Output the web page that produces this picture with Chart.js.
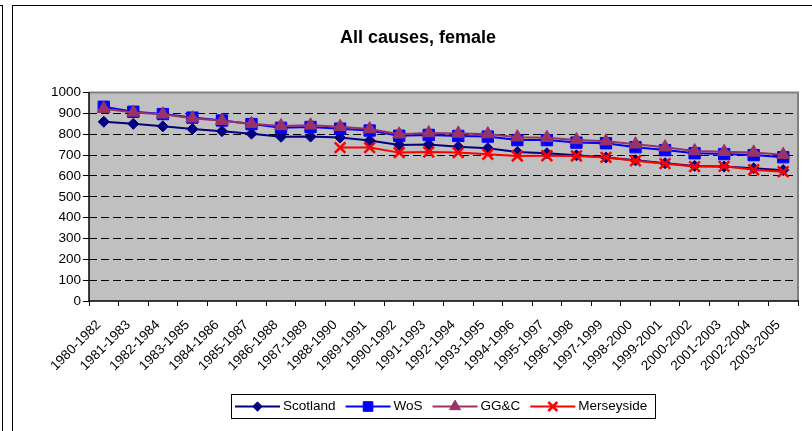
<!DOCTYPE html>
<html><head><meta charset="utf-8">
<script src="https://cdn.jsdelivr.net/npm/chart.js@4.4.1/dist/chart.umd.min.js"></script>
<style>
html,body{margin:0;padding:0;background:#fff;}
#wrap{position:relative;width:812px;height:431px;overflow:hidden;background:#fff;}
canvas{position:absolute;left:0;top:0;}
.f1{position:absolute;left:-5px;top:5px;width:7px;height:500px;border-top:1px solid #000;border-right:1px solid #000;}
.f2{position:absolute;left:12px;top:5px;width:900px;height:500px;border:1px solid #000;}
</style></head>
<body>
<div id="wrap"><div class="f1"></div><div class="f2"></div><canvas id="c" width="812" height="431"></canvas></div>
<script>
const categories = ['1980-1982','1981-1983','1982-1984','1983-1985','1984-1986','1985-1987','1986-1988','1987-1989','1988-1990','1989-1991','1990-1992','1991-1993','1992-1994','1993-1995','1994-1996','1995-1997','1996-1998','1997-1999','1998-2000','1999-2001','2000-2002','2001-2003','2002-2004','2003-2005'];
const scotland   = [860, 850, 838, 825, 815, 803, 788, 789, 784, 770, 749, 751, 740, 733, 715, 709, 699, 689, 675, 661, 648, 645, 637, 628];
const wos        = [932, 908, 897, 880, 866, 849, 831, 835, 827, 818, 793, 797, 792, 789, 772, 772, 760, 757, 738, 724, 709, 705, 700, 690];
const ggc        = [923, 905, 896, 877, 865, 850, 840, 843, 836, 825, 800, 806, 804, 801, 786, 783, 773, 767, 752, 738, 720, 716, 713, 702];
const merseyside = [null, null, null, null, null, null, null, null, 736, 736, 712, 715, 712, 704, 696, 697, 696, 689, 673, 659, 645, 646, 630, 620];
const seriesNames = ['Scotland', 'WoS', 'GG&C', 'Merseyside'];
const yMin = 0, yMax = 1000, yStep = 100;
const titleText = 'All causes, female';

const FONT = '"Liberation Sans", Arial, sans-serif';

const plotFrame = {
  id: 'plotFrame',
  beforeDraw(chart) {
    const {ctx, chartArea: a} = chart;
    ctx.save();
    ctx.fillStyle = '#c0c0c0';
    ctx.fillRect(a.left, a.top, a.right - a.left, a.bottom - a.top);
    ctx.restore();
  },
  beforeDatasetsDraw(chart) {
    const {ctx, chartArea: a} = chart;
    ctx.save();
    ctx.lineWidth = 2;
    ctx.strokeStyle = '#808080';
    ctx.beginPath();
    ctx.moveTo(a.left, a.top); ctx.lineTo(a.right, a.top); ctx.lineTo(a.right, a.bottom);
    ctx.stroke();
    ctx.lineWidth = 1.5;
    ctx.strokeStyle = '#000';
    ctx.beginPath();
    ctx.moveTo(a.left, a.top); ctx.lineTo(a.left, a.bottom); ctx.lineTo(a.right + 1, a.bottom);
    ctx.stroke();
    ctx.restore();
  }
};

const excelLegend = {
  id: 'excelLegend',
  afterDraw(chart) {
    const ctx = chart.ctx;
    const a = chart.chartArea;
    ctx.save();
    ctx.font = '13.5px ' + FONT;
    const lineLen = 45, txtGap = 3, gap = 10, padL = 4, padR = 8;
    const dss = chart.data.datasets;
    const widths = dss.map(ds => lineLen + txtGap + ctx.measureText(ds.label).width);
    const total = padL + widths.reduce((s, w) => s + w, 0) + gap * (dss.length - 1) + padR;
    const x0 = Math.round((a.left + a.right) / 2 - total / 2);
    const y0 = 394, h = 24;
    ctx.fillStyle = '#fff';
    ctx.fillRect(x0, y0, total, h);
    ctx.strokeStyle = '#000';
    ctx.lineWidth = 1;
    ctx.strokeRect(x0 + 0.5, y0 + 0.5, Math.round(total), h);
    let x = x0 + padL;
    const cy = y0 + h / 2 + 0.5;
    dss.forEach((ds, i) => {
      ctx.strokeStyle = ds.borderColor;
      ctx.lineWidth = 2;
      ctx.beginPath(); ctx.moveTo(x, cy); ctx.lineTo(x + lineLen, cy); ctx.stroke();
      ctx.fillStyle = ds.pointBackgroundColor;
      ctx.strokeStyle = ds.pointBorderColor;
      ctx.lineWidth = ds.pointBorderWidth;
      Chart.helpers.drawPoint(ctx, {pointStyle: ds.pointStyle, radius: ds.pointRadius * 0.85, rotation: 0, borderWidth: ds.pointBorderWidth}, x + lineLen / 2, cy);
      ctx.fillStyle = '#000';
      ctx.textBaseline = 'middle';
      ctx.textAlign = 'left';
      ctx.fillText(ds.label, x + lineLen + txtGap, cy);
      x += widths[i] + gap;
    });
    ctx.restore();
  }
};

function series(label, data, color, style, radius, bw, order) {
  return {
    label, data, order,
    borderColor: color, backgroundColor: color,
    borderWidth: 2,
    pointStyle: style, pointRadius: radius, pointHoverRadius: radius,
    pointBackgroundColor: color, pointBorderColor: color, pointBorderWidth: bw,
    tension: 0, spanGaps: false, fill: false
  };
}

new Chart(document.getElementById('c'), {
  type: 'line',
  data: {
    labels: categories,
    datasets: [
      series(seriesNames[0], scotland, '#000080', 'rectRot', 5.5, 1, 4),
      series(seriesNames[1], wos, '#0000ff', 'rect', 8, 1, 3),
      series(seriesNames[2], ggc, '#993366', 'triangle', 7.5, 1, 2),
      series(seriesNames[3], merseyside, '#ff0000', 'crossRot', 7.5, 2.5, 1)
    ]
  },
  options: {
    responsive: false,
    devicePixelRatio: 1,
    animation: false,
    events: [],
    layout: {padding: {left: 38, right: 14, top: 0, bottom: 40}},
    plugins: {
      legend: {display: false},
      tooltip: {enabled: false},
      title: {
        display: true, text: titleText, color: '#000',
        font: {family: FONT, size: 18, weight: 'bold'},
        padding: {top: 27, bottom: 44}
      }
    },
    scales: {
      x: {
        type: 'category',
        offset: true,
        border: {display: false},
        grid: {offset: true, drawOnChartArea: false, drawTicks: true, tickLength: 5, color: '#000', tickColor: '#000', tickWidth: 1},
        ticks: {autoSkip: false, minRotation: 45, maxRotation: 45, color: '#000', font: {family: FONT, size: 13.5}, padding: 11, labelOffset: -5},
        afterFit(s) { s.height = 90; }
      },
      y: {
        min: yMin, max: yMax,
        border: {display: false, dash: [8, 4]},
        grid: {
          color: c => (c.tick && (c.tick.value === yMin || c.tick.value === yMax)) ? 'rgba(0,0,0,0)' : '#000',
          borderDash: [8, 4],
          lineWidth: 1,
          tickLength: 6, tickColor: '#000', tickWidth: 1, tickBorderDash: []
        },
        ticks: {stepSize: yStep, color: '#000', font: {family: FONT, size: 13.5}, padding: 2, callback: v => String(v)},
        afterFit(s) { s.width = 51; }
      }
    }
  },
  plugins: [plotFrame, excelLegend]
});
</script>
</body></html>
